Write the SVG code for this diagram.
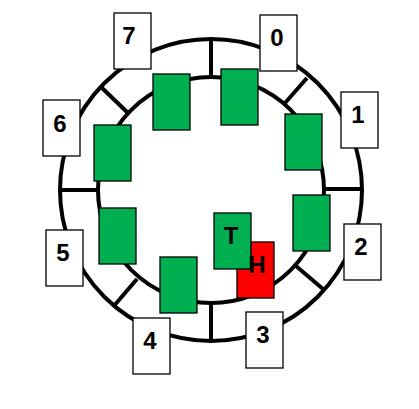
<svg xmlns="http://www.w3.org/2000/svg" width="419" height="409" viewBox="0 0 419 409">
<style>
.ring{fill:none;stroke:#000;stroke-width:4}
.spoke{stroke:#000;stroke-width:4}
.lab{fill:#fff;stroke:#000;stroke-width:1.3}
.slot{fill:#00B050;stroke:#000;stroke-width:1.3}
.red{fill:#FF0000;stroke:#000;stroke-width:1.3}
text{font-family:"Liberation Sans",Arial,sans-serif;font-weight:bold;font-size:24px;fill:#000;text-anchor:middle}
</style>
<rect width="419" height="409" fill="#fff"/>
<g id="connectors">
<circle class="ring" cx="211" cy="190" r="151"/>
<circle class="ring" cx="211" cy="190" r="113"/>
<line class="spoke" x1="211" y1="39" x2="211" y2="77"/>
<line class="spoke" x1="211" y1="303" x2="211" y2="341"/>
<line class="spoke" x1="60" y1="190" x2="98" y2="190"/>
<line class="spoke" x1="324" y1="189" x2="362" y2="189"/>
<line class="spoke" x1="100" y1="86" x2="128" y2="113"/>
<line class="spoke" x1="307" y1="78" x2="285" y2="103"/>
<line class="spoke" x1="323" y1="289" x2="296" y2="266"/>
<line class="spoke" x1="113" y1="307" x2="137" y2="279"/>
</g>
<g id="label-7"><rect class="lab" x="114" y="13" width="37" height="56"/><text x="129" y="44">7</text></g>
<g id="label-0"><rect class="lab" x="260" y="15" width="37" height="56"/><text x="277" y="46">0</text></g>
<g id="label-6"><rect class="lab" x="43" y="100" width="37" height="56"/><text x="60" y="132">6</text></g>
<g id="label-1"><rect class="lab" x="341" y="92" width="37" height="56"/><text x="358" y="123">1</text></g>
<g id="label-5"><rect class="lab" x="46" y="230" width="37" height="56"/><text x="63" y="261">5</text></g>
<g id="label-2"><rect class="lab" x="344" y="224" width="37" height="56"/><text x="361" y="255">2</text></g>
<g id="label-4"><rect class="lab" x="133" y="318" width="37" height="56"/><text x="150" y="349">4</text></g>
<g id="label-3"><rect class="lab" x="246" y="312" width="37" height="56"/><text x="263" y="343">3</text></g>
<g id="slot-7"><rect class="slot" x="153" y="74" width="37" height="56"/></g>
<g id="slot-0"><rect class="slot" x="221" y="69" width="37" height="56"/></g>
<g id="slot-6"><rect class="slot" x="94" y="125" width="37" height="56"/></g>
<g id="slot-1"><rect class="slot" x="285" y="114" width="37" height="56"/></g>
<g id="slot-2"><rect class="slot" x="293" y="195" width="37" height="56"/></g>
<g id="slot-5"><rect class="slot" x="99" y="208" width="37" height="56"/></g>
<g id="slot-4"><rect class="slot" x="160" y="257" width="37" height="56"/></g>
<g id="node-H"><rect class="red" x="237" y="242" width="37" height="56"/></g>
<g id="node-T"><rect class="slot" x="214" y="213" width="37" height="56"/><text x="231" y="244">T</text></g>
<g id="node-H-label"><text x="257" y="273">H</text></g>
</svg>
